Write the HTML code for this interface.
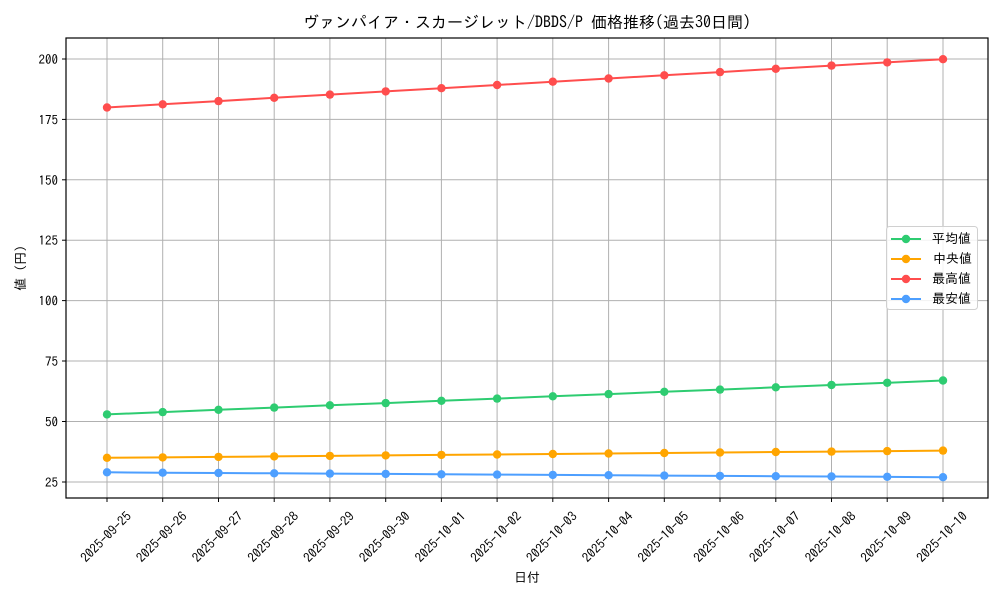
<!DOCTYPE html>
<html><head><meta charset="utf-8"><style>body{margin:0;background:#fff}svg{display:block;font-family:"IPAGothic","Liberation Sans","Noto Sans CJK JP",sans-serif}</style></head>
<body>
<svg width="1000" height="600" viewBox="0 0 1000 600">
<defs>
<marker id="mg" markerWidth="10" markerHeight="10" refX="5" refY="5" markerUnits="userSpaceOnUse"><circle cx="5" cy="5" r="4.2" fill="#2ecc71"/></marker>
<marker id="mo" markerWidth="10" markerHeight="10" refX="5" refY="5" markerUnits="userSpaceOnUse"><circle cx="5" cy="5" r="4.2" fill="#ffa500"/></marker>
<marker id="mr" markerWidth="10" markerHeight="10" refX="5" refY="5" markerUnits="userSpaceOnUse"><circle cx="5" cy="5" r="4.2" fill="#ff4d4d"/></marker>
<marker id="mb" markerWidth="10" markerHeight="10" refX="5" refY="5" markerUnits="userSpaceOnUse"><circle cx="5" cy="5" r="4.2" fill="#4d9fff"/></marker>
</defs>
<text x="527" y="28" font-size="16" text-anchor="middle">ヴァンパイア・スカージレット/DBDS/P 価格推移(過去30日間)</text>
<g stroke="#b0b0b0" stroke-width="1">
<line x1="107" y1="38" x2="107" y2="498"/><line x1="162.7" y1="38" x2="162.7" y2="498"/><line x1="218.5" y1="38" x2="218.5" y2="498"/><line x1="274.2" y1="38" x2="274.2" y2="498"/><line x1="329.9" y1="38" x2="329.9" y2="498"/><line x1="385.7" y1="38" x2="385.7" y2="498"/><line x1="441.4" y1="38" x2="441.4" y2="498"/><line x1="497.1" y1="38" x2="497.1" y2="498"/><line x1="552.8" y1="38" x2="552.8" y2="498"/><line x1="608.6" y1="38" x2="608.6" y2="498"/><line x1="664.3" y1="38" x2="664.3" y2="498"/><line x1="720" y1="38" x2="720" y2="498"/><line x1="775.8" y1="38" x2="775.8" y2="498"/><line x1="831.5" y1="38" x2="831.5" y2="498"/><line x1="887.2" y1="38" x2="887.2" y2="498"/><line x1="943" y1="38" x2="943" y2="498"/>
<line x1="66" y1="59" x2="988" y2="59"/><line x1="66" y1="119.4" x2="988" y2="119.4"/><line x1="66" y1="179.8" x2="988" y2="179.8"/><line x1="66" y1="240.2" x2="988" y2="240.2"/><line x1="66" y1="300.6" x2="988" y2="300.6"/><line x1="66" y1="361" x2="988" y2="361"/><line x1="66" y1="421.5" x2="988" y2="421.5"/><line x1="66" y1="482" x2="988" y2="482"/>
</g>
<g fill="none" stroke-width="2">
<polyline stroke="#2ecc71" marker-start="url(#mg)" marker-mid="url(#mg)" marker-end="url(#mg)" points="107,414.4 162.7,412.1 218.5,409.8 274.2,407.6 329.9,405.3 385.7,403.1 441.4,400.8 497.1,398.6 552.8,396.3 608.6,394.1 664.3,391.8 720,389.6 775.8,387.3 831.5,385.0 887.2,382.8 943,380.5"/>
<polyline stroke="#ffa500" marker-start="url(#mo)" marker-mid="url(#mo)" marker-end="url(#mo)" points="107,457.8 162.7,457.4 218.5,456.9 274.2,456.4 329.9,455.9 385.7,455.4 441.4,454.9 497.1,454.5 552.8,454.0 608.6,453.5 664.3,453.0 720,452.5 775.8,452.0 831.5,451.6 887.2,451.1 943,450.6"/>
<polyline stroke="#ff4d4d" marker-start="url(#mr)" marker-mid="url(#mr)" marker-end="url(#mr)" points="107,107.5 162.7,104.3 218.5,101.1 274.2,97.8 329.9,94.6 385.7,91.4 441.4,88.2 497.1,85.0 552.8,81.7 608.6,78.5 664.3,75.3 720,72.1 775.8,68.8 831.5,65.6 887.2,62.4 943,59.2"/>
<polyline stroke="#4d9fff" marker-start="url(#mb)" marker-mid="url(#mb)" marker-end="url(#mb)" points="107,472.3 162.7,472.7 218.5,473.0 274.2,473.3 329.9,473.6 385.7,473.9 441.4,474.3 497.1,474.6 552.8,474.9 608.6,475.2 664.3,475.6 720,475.9 775.8,476.2 831.5,476.5 887.2,476.8 943,477.2"/>
</g>
<rect x="66" y="38" width="922" height="460" fill="none" stroke="#000" stroke-width="1.2"/>
<g stroke="#000" stroke-width="1">
<line x1="62" y1="59" x2="66" y2="59"/><line x1="62" y1="119.4" x2="66" y2="119.4"/><line x1="62" y1="179.8" x2="66" y2="179.8"/><line x1="62" y1="240.2" x2="66" y2="240.2"/><line x1="62" y1="300.6" x2="66" y2="300.6"/><line x1="62" y1="361" x2="66" y2="361"/><line x1="62" y1="421.5" x2="66" y2="421.5"/><line x1="62" y1="482" x2="66" y2="482"/>
<line x1="107" y1="498" x2="107" y2="502"/><line x1="162.7" y1="498" x2="162.7" y2="502"/><line x1="218.5" y1="498" x2="218.5" y2="502"/><line x1="274.2" y1="498" x2="274.2" y2="502"/><line x1="329.9" y1="498" x2="329.9" y2="502"/><line x1="385.7" y1="498" x2="385.7" y2="502"/><line x1="441.4" y1="498" x2="441.4" y2="502"/><line x1="497.1" y1="498" x2="497.1" y2="502"/><line x1="552.8" y1="498" x2="552.8" y2="502"/><line x1="608.6" y1="498" x2="608.6" y2="502"/><line x1="664.3" y1="498" x2="664.3" y2="502"/><line x1="720" y1="498" x2="720" y2="502"/><line x1="775.8" y1="498" x2="775.8" y2="502"/><line x1="831.5" y1="498" x2="831.5" y2="502"/><line x1="887.2" y1="498" x2="887.2" y2="502"/><line x1="943" y1="498" x2="943" y2="502"/>
</g>
<g font-size="13" text-anchor="end">
<text x="58" y="64">200</text><text x="58" y="124.4">175</text><text x="58" y="184.8">150</text><text x="58" y="245.2">125</text><text x="58" y="305.6">100</text><text x="58" y="366">75</text><text x="58" y="426.5">50</text><text x="58" y="487">25</text>
</g>
<g font-size="13" text-anchor="middle" dominant-baseline="central">
<text transform="translate(106,537) rotate(-45)">2025-09-25</text><text transform="translate(161.7,537) rotate(-45)">2025-09-26</text><text transform="translate(217.5,537) rotate(-45)">2025-09-27</text><text transform="translate(273.2,537) rotate(-45)">2025-09-28</text><text transform="translate(328.9,537) rotate(-45)">2025-09-29</text><text transform="translate(384.7,537) rotate(-45)">2025-09-30</text><text transform="translate(440.4,537) rotate(-45)">2025-10-01</text><text transform="translate(496.1,537) rotate(-45)">2025-10-02</text><text transform="translate(551.8,537) rotate(-45)">2025-10-03</text><text transform="translate(607.6,537) rotate(-45)">2025-10-04</text><text transform="translate(663.3,537) rotate(-45)">2025-10-05</text><text transform="translate(719,537) rotate(-45)">2025-10-06</text><text transform="translate(774.8,537) rotate(-45)">2025-10-07</text><text transform="translate(830.5,537) rotate(-45)">2025-10-08</text><text transform="translate(886.2,537) rotate(-45)">2025-10-09</text><text transform="translate(942,537) rotate(-45)">2025-10-10</text>
</g>
<text x="527" y="582" font-size="13" text-anchor="middle">日付</text>
<text transform="translate(25,268) rotate(-90)" font-size="13" text-anchor="middle">値 (円)</text>
<rect x="886.5" y="226.5" width="91" height="83" rx="3" fill="#fff" fill-opacity="0.85" stroke="#d0d0d0"/>
<g stroke-width="2">
<line x1="891" y1="239" x2="921" y2="239" stroke="#2ecc71"/><circle cx="906" cy="239" r="4.2" fill="#2ecc71"/>
<line x1="891" y1="259" x2="921" y2="259" stroke="#ffa500"/><circle cx="906" cy="259" r="4.2" fill="#ffa500"/>
<line x1="891" y1="279" x2="921" y2="279" stroke="#ff4d4d"/><circle cx="906" cy="279" r="4.2" fill="#ff4d4d"/>
<line x1="891" y1="299" x2="921" y2="299" stroke="#4d9fff"/><circle cx="906" cy="299" r="4.2" fill="#4d9fff"/>
</g>
<g font-size="13">
<text x="932" y="243">平均値</text><text x="933" y="263">中央値</text><text x="932" y="283">最高値</text><text x="932" y="303">最安値</text>
</g>
</svg>
</body></html>
